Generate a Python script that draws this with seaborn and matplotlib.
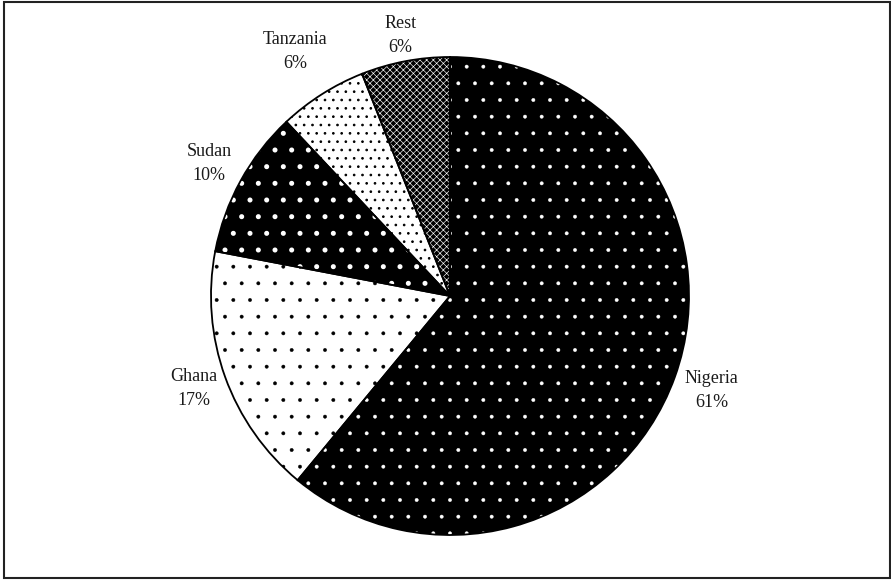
import matplotlib
matplotlib.use("Agg")
import matplotlib.pyplot as plt
import seaborn as sns
import numpy as np
from matplotlib.patches import Rectangle

# ---- data ----
countries = ["Nigeria", "Ghana", "Sudan", "Tanzania", "Rest"]
shares = [61, 17, 10, 6, 6]
share_labels = ["61%", "17%", "10%", "6%", "6%"]

# ---- styling (not data) ----
faces = ["black", "white", "black", "white", "black"]
hatch_colors = ["white", "black", "white", "black", "white"]
hatches = [".", ".", ".", "..", "xxxxx"]
hatch_lws = [0.3, 0.3, 1.2, 0.7, 0.45]
label_dist = [1.163, 1.14, 1.15, 1.21, 1.11]

sns.set_theme(style="white")
plt.rcParams["font.family"] = ["Liberation Serif", "DejaVu Serif"]

W, H = 891, 580
fig = plt.figure(figsize=(W / 100, H / 100), dpi=100)
cx, cy, R = 450, 296, 239
ax = fig.add_axes([(cx - R) / W, (H - cy - R) / H, 2 * R / W, 2 * R / H])

wedges, _ = ax.pie(shares, startangle=90, counterclock=False, radius=1,
                   wedgeprops=dict(linewidth=0))
for w, fc, hc, hp, hl in zip(wedges, faces, hatch_colors, hatches, hatch_lws):
    w.set_facecolor(fc)
    w.set_edgecolor(hc)
    w.set_hatch(hp)
    w.set_linewidth(0)
    if hasattr(w, "set_hatch_linewidth"):
        w.set_hatch_linewidth(hl)

outline, _ = ax.pie(shares, startangle=90, counterclock=False, radius=1,
                    wedgeprops=dict(fill=False, edgecolor="black", linewidth=1.3))

for w, name, pct, d in zip(wedges, countries, share_labels, label_dist):
    mid = np.deg2rad((w.theta1 + w.theta2) / 2)
    ax.text(d * np.cos(mid), d * np.sin(mid), f"{name}\n{pct}",
            ha="center", va="center", fontsize=13, linespacing=1.55,
            color="#1a1a1a")

ax.set_xlim(-1, 1)
ax.set_ylim(-1, 1)
ax.set_aspect("equal")
ax.axis("off")

fig.patches.append(Rectangle((3.5 / W, 2 / H), (889.5 - 3.5) / W, (578 - 2) / H,
                             transform=fig.transFigure, fill=False,
                             edgecolor="#222222", linewidth=1.5))

fig.savefig("out.png", dpi=100)
